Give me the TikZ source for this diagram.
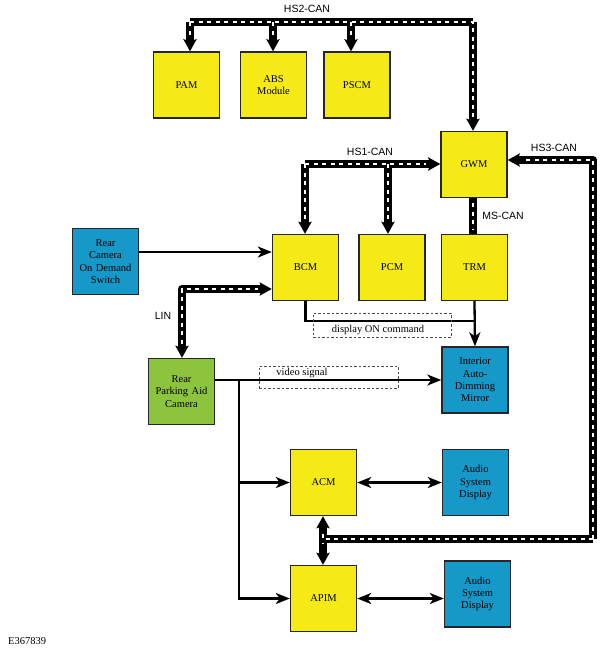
\documentclass[tikz,border=0pt]{standalone}
\usepackage{fontspec}
\setmainfont{Liberation Serif}
\newfontfamily\sansf{Liberation Sans}
\usetikzlibrary{arrows.meta}
\definecolor{boxyellow}{RGB}{246,234,22}
\definecolor{boxblue}{RGB}{22,152,200}
\definecolor{boxgreen}{RGB}{140,196,62}
\tikzset{
  box/.style={draw=black!85, line width=1.4pt, minimum width=66pt, minimum height=66pt,
    inner sep=1pt, align=center, text width=60pt, font=\fontsize{10.5}{12.3}\selectfont},
  ybox/.style={box, fill=boxyellow},
  bbox/.style={box, fill=boxblue},
  gbox/.style={box, fill=boxgreen},
  busk/.style={draw=black, line width=8pt, line join=round},
  busw/.style={draw=white, line width=2.4pt, dash pattern=on 4pt off 4.5pt},
  bustip/.style={-{Stealth[length=12pt,width=13pt,inset=2pt]}},
  bustips/.style={{Stealth[length=12pt,width=13pt,inset=2pt]}-{Stealth[length=12pt,width=13pt,inset=2pt]}},
  ln/.style={draw=black, line width=2.3pt},
  arr/.style={ln, -{Stealth[length=14pt,width=11pt,inset=4pt]}},
  arrs/.style={ln, {Stealth[length=14pt,width=11pt,inset=4pt]}-{Stealth[length=14pt,width=11pt,inset=4pt]}},
  buslabel/.style={font=\sansf\fontsize{10.5}{12}\selectfont, inner sep=0pt},
  siglabel/.style={font=\fontsize{10.5}{12}\selectfont, inner sep=0pt},
  dbox/.style={draw=black!70, line width=0.7pt, dash pattern=on 2.5pt off 2pt, inner sep=0pt},
}
\begin{document}
\begin{tikzpicture}[x=1pt,y=-1pt]
\useasboundingbox (0,0) rectangle (611,657);
% modules
\node[ybox] (PAM) at (186.5,85) {PAM};
\node[ybox] (ABS) at (273.5,85) {ABS\\Module};
\node[ybox] (PSCM) at (357,85) {PSCM};
\node[ybox] (GWM) at (474,164.5) {GWM};
\node[bbox] (SW) at (105.5,261.5) {Rear\\Camera\\On Demand\\Switch};
\node[ybox] (BCM) at (305.5,267.5) {BCM};
\node[ybox] (PCM) at (392,267.5) {PCM};
\node[ybox] (TRM) at (474.5,267.5) {TRM};
\node[gbox] (CAM) at (181.5,391.5) {Rear\\Parking Aid\\Camera};
\node[bbox] (MIR) at (475,380) {Interior\\Auto-\\Dimming\\Mirror};
\node[ybox] (ACM) at (323.5,482.5) {ACM};
\node[bbox] (ASD1) at (475.5,482.5) {Audio\\System\\Display};
\node[ybox] (APIM) at (323.5,598.5) {APIM};
\node[bbox] (ASD2) at (477.5,594) {Audio\\System\\Display};
% bus coordinates
\coordinate (h2l) at (190,22);
\coordinate (h2a) at (273,22);
\coordinate (h2p) at (351,22);
\coordinate (h2r) at (473,22);
\coordinate (h1l) at (305,164);
\coordinate (h1p) at (388,164);
\coordinate (h3t) at (593,160);
\coordinate (h3b) at (593,539);
\coordinate (h3e) at (323,539);
\coordinate (linc) at (182,289);
% HS2-CAN
\draw[busk] (h2l) -- (h2r);
\draw[busk,bustip] (h2l) -- (h2l |- PAM.north);
\draw[busk,bustip] (h2a) -- (h2a |- ABS.north);
\draw[busk,bustip] (h2p) -- (h2p |- PSCM.north);
\draw[busk,bustip] (h2r) -- (h2r |- GWM.north);
% HS1-CAN
\draw[busk,bustip] (h1l) -- (h1l -| GWM.west);
\draw[busk,bustip] (h1l) -- (h1l |- BCM.north);
\draw[busk,bustip] (h1p) -- (h1p |- PCM.north);
% HS3-CAN
\draw[busk,bustip] (h3b) -- (h3t) -- (h3t -| GWM.east);
\draw[busk] (h3b) -- (h3e);
\draw[busk,bustips] (h3e |- ACM.south) -- (h3e |- APIM.north);
% MS-CAN
\draw[busk] (h2r |- GWM.south) -- (h2r |- TRM.north);
% LIN
\draw[busk,bustips] (linc |- CAM.north) -- (linc) -- (linc -| BCM.west);
% white dashes
\draw[busw] (h2l) -- (h2r) -- ([yshift=14pt]h2r |- GWM.north);
\draw[busw] (h2l) -- ([yshift=14pt]h2l |- PAM.north);
\draw[busw] (h2a) -- ([yshift=14pt]h2a |- ABS.north);
\draw[busw] (h2p) -- ([yshift=14pt]h2p |- PSCM.north);
\draw[busw] (h1l) -- ([xshift=-14pt]h1l -| GWM.west);
\draw[busw] (h1l) -- ([yshift=14pt]h1l |- BCM.north);
\draw[busw] (h1p) -- ([yshift=14pt]h1p |- PCM.north);
\draw[busw] (h3b) -- (h3t) -- ([xshift=14pt]h3t -| GWM.east);
\draw[busw] (h3b) -- (h3e);
\draw[busw] ([yshift=5pt]h3e) -- ([yshift=-5pt]h3e);
\draw[busw] ([yshift=-5pt]h2r |- GWM.south) -- ([yshift=5pt]h2r |- TRM.north);
\draw[busw] ([yshift=14pt]linc |- CAM.north) -- (linc) -- ([xshift=-14pt]linc -| BCM.west);
% bus labels
\node[buslabel] (lHS2) at (307,9) {HS2-CAN};
\node[buslabel] (lHS1) at (370,152) {HS1-CAN};
\node[buslabel] (lHS3) at (554,148) {HS3-CAN};
\node[buslabel] (lMS) at (503,216) {MS-CAN};
\node[buslabel] (lLIN) at (163,316) {LIN};
% signal lines
\coordinate (swy) at (0,252);
\draw[arr] (swy -| SW.east) -- (swy -| BCM.west);
\coordinate (don) at (0,321);
\draw[ln] (BCM.south) |- (don -| TRM.south);
\draw[arr] (TRM.south) -- (MIR.north);
\coordinate (vsy) at (0,380);
\coordinate (br) at (239,380);
\draw[arr] (vsy -| CAM.east) -- (vsy -| MIR.west);
\draw[arr] (br) |- (APIM.west);
\draw[arr] (br |- ACM.west) -- (ACM.west);
\draw[arrs] (ACM.east) -- (ASD1.west);
\draw[arrs] (APIM.east) -- (APIM.east -| ASD2.west);
% dashed label boxes
\node[dbox, minimum width=138pt, minimum height=24pt] (dbox1) at (382,325) {};
\node[siglabel] (ldon) at (378,330) {display ON command};
\node[dbox, minimum width=139pt, minimum height=22pt] (dbox2) at (328.5,377) {};
\node[siglabel] (lvs) at (302,373) {video signal};
% figure id
\node[siglabel, anchor=west] (fid) at (8,641) {E367839};
\end{tikzpicture}
\end{document}
